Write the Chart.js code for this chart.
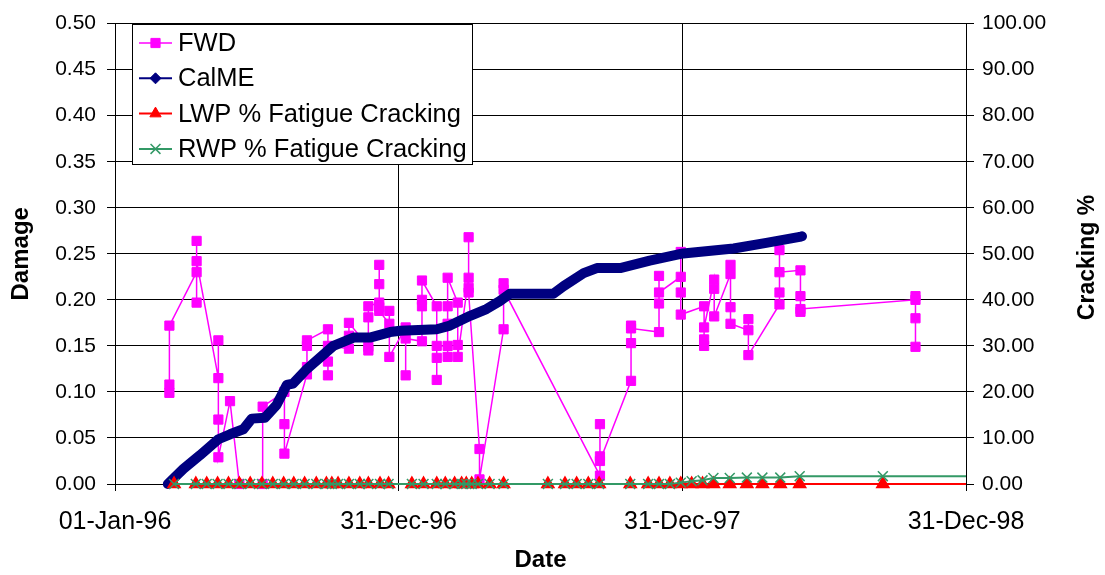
<!DOCTYPE html>
<html>
<head>
<meta charset="utf-8">
<script src="https://cdn.jsdelivr.net/npm/chart.js@4.4.1/dist/chart.umd.min.js"></script>
<style>
  body { margin: 0; background: #fff; }
  #wrap { width: 1105px; height: 575px; }
</style>
</head>
<body>
<div id="wrap"><canvas id="damageChart" width="1105" height="575"></canvas></div>
<script>
// axis tick labels
var xTickLabels = ["01-Jan-96", "31-Dec-96", "31-Dec-97", "31-Dec-98"];
var damageTicks = [0, 0.05, 0.1, 0.15, 0.2, 0.25, 0.3, 0.35, 0.4, 0.45, 0.5];
var crackingTicks = [0, 10, 20, 30, 40, 50, 60, 70, 80, 90, 100];

// FWD back-calculated damage (several drops per test date)
var fwdDates = [
  "1996-03-11", "1996-03-11", "1996-03-11",
  "1996-04-15", "1996-04-15", "1996-04-15", "1996-04-15",
  "1996-05-13", "1996-05-13", "1996-05-13", "1996-05-13",
  "1996-05-28", "1996-06-09",
  "1996-07-09", "1996-07-09",
  "1996-08-06", "1996-08-06", "1996-08-06",
  "1996-09-04", "1996-09-04", "1996-09-04", "1996-09-04",
  "1996-10-01", "1996-10-01", "1996-10-01", "1996-10-01",
  "1996-10-28", "1996-10-28", "1996-10-28",
  "1996-11-22", "1996-11-22", "1996-11-22", "1996-11-22",
  "1996-12-06", "1996-12-06", "1996-12-06", "1996-12-06", "1996-12-06",
  "1996-12-19", "1996-12-19", "1996-12-19",
  "1997-01-09", "1997-01-09", "1997-01-09",
  "1997-01-30", "1997-01-30", "1997-01-30", "1997-01-30",
  "1997-02-18", "1997-02-18", "1997-02-18", "1997-02-18",
  "1997-03-04", "1997-03-04", "1997-03-04", "1997-03-04", "1997-03-04",
  "1997-03-17", "1997-03-17", "1997-03-17",
  "1997-03-31", "1997-03-31", "1997-03-31", "1997-03-31",
  "1997-04-14", "1997-04-14",
  "1997-05-15", "1997-05-15", "1997-05-15",
  "1997-09-16", "1997-09-16", "1997-09-16", "1997-09-16",
  "1997-10-26", "1997-10-26", "1997-10-26", "1997-10-26",
  "1997-12-01", "1997-12-01", "1997-12-01", "1997-12-01",
  "1997-12-29", "1997-12-29", "1997-12-29", "1997-12-29",
  "1998-01-28", "1998-01-28", "1998-01-28", "1998-01-28",
  "1998-02-10", "1998-02-10", "1998-02-10",
  "1998-03-03", "1998-03-03", "1998-03-03", "1998-03-03",
  "1998-03-26", "1998-03-26", "1998-03-26",
  "1998-05-05", "1998-05-05", "1998-05-05", "1998-05-05",
  "1998-06-01", "1998-06-01", "1998-06-01", "1998-06-01",
  "1998-10-27", "1998-10-27", "1998-10-27", "1998-10-27"
];
var fwdDamage = [
  0.099, 0.108, 0.172,
  0.230, 0.197, 0.264, 0.242,
  0.115, 0.156, 0.070, 0.029,
  0.090, 0.000,
  0.000, 0.084,
  0.100, 0.065, 0.033,
  0.119, 0.127, 0.150, 0.156,
  0.168, 0.133, 0.118, 0.150,
  0.147, 0.161, 0.175,
  0.149, 0.145, 0.181, 0.193,
  0.197, 0.238, 0.217, 0.192, 0.188,
  0.174, 0.188, 0.138,
  0.170, 0.118, 0.158,
  0.155, 0.193, 0.200, 0.221,
  0.193, 0.137, 0.113, 0.150,
  0.150, 0.138, 0.174, 0.193, 0.224,
  0.197, 0.151, 0.138,
  0.224, 0.268, 0.213, 0.208,
  0.038, 0.005,
  0.168, 0.218, 0.211,
  0.009, 0.065, 0.030, 0.025,
  0.112, 0.153, 0.172, 0.169,
  0.165, 0.196, 0.226, 0.208,
  0.225, 0.252, 0.208, 0.184,
  0.193, 0.150, 0.157, 0.170,
  0.222, 0.212, 0.182,
  0.228, 0.238, 0.192, 0.174,
  0.167, 0.179, 0.140,
  0.195, 0.208, 0.254, 0.230,
  0.232, 0.204, 0.187, 0.190,
  0.200, 0.204, 0.180, 0.149
];

// CalME simulated damage
var calmeDates = [
  "1996-03-09", "1996-03-29", "1996-04-19", "1996-05-13", "1996-05-28", "1996-06-14",
  "1996-06-25", "1996-07-12", "1996-07-27", "1996-08-09", "1996-08-17", "1996-09-04",
  "1996-10-08", "1996-11-03", "1996-11-24", "1996-12-20", "1997-01-02", "1997-02-18",
  "1997-03-07", "1997-04-02", "1997-04-23", "1997-05-10", "1997-05-23", "1997-07-18",
  "1997-07-31", "1997-08-26", "1997-09-12", "1997-10-12", "1997-11-19", "1998-01-01",
  "1998-03-07", "1998-04-18", "1998-05-31", "1998-06-03"
];
var calmeDamage = [
  0.000, 0.0165, 0.031, 0.0486, 0.054, 0.0594,
  0.071, 0.072, 0.086, 0.1076, 0.109, 0.125,
  0.150, 0.159, 0.159, 0.165, 0.1665, 0.168,
  0.172, 0.1826, 0.190, 0.1986, 0.2065, 0.2065,
  0.2147, 0.229, 0.2345, 0.2345, 0.2426, 0.2504,
  0.2558, 0.2618, 0.2683, 0.269
];

// fatigue cracking surveys (last point lies past the axis end)
var crackDates = [
  "1996-03-17", "1996-04-14", "1996-04-28", "1996-05-12", "1996-05-26", "1996-06-09",
  "1996-06-23", "1996-07-08", "1996-07-22", "1996-08-05", "1996-08-18", "1996-09-01",
  "1996-09-16", "1996-09-29", "1996-10-06", "1996-10-14", "1996-10-28", "1996-11-11",
  "1996-11-22", "1996-12-07", "1996-12-18", "1997-01-17", "1997-02-01", "1997-02-18",
  "1997-03-01", "1997-03-13", "1997-03-22", "1997-03-28", "1997-04-04", "1997-04-12",
  "1997-04-27", "1997-05-15", "1997-07-11", "1997-08-02", "1997-08-17", "1997-09-01",
  "1997-09-15", "1997-10-25", "1997-11-17", "1997-12-01", "1997-12-15", "1997-12-29",
  "1998-01-12", "1998-01-26", "1998-02-09", "1998-03-02", "1998-03-24", "1998-04-13",
  "1998-05-06", "1998-05-31", "1998-09-15", "1999-02-15"
];
var lwpCracking = [
  0, 0, 0, 0, 0, 0, 0, 0, 0, 0, 0, 0, 0,
  0, 0, 0, 0, 0, 0, 0, 0, 0, 0, 0, 0, 0,
  0, 0, 0, 0, 0, 0, 0, 0, 0, 0, 0, 0, 0,
  0, 0, 0, 0, 0, 0, 0, 0, 0, 0, 0, 0, 0
];
var rwpCracking = [
  0, 0, 0, 0, 0, 0, 0, 0, 0, 0, 0, 0, 0,
  0, 0, 0, 0, 0, 0, 0, 0, 0, 0, 0, 0, 0,
  0, 0, 0, 0, 0, 0, 0, 0, 0, 0, 0, 0, 0,
  0, 0, 0.3, 0.6, 0.8, 1.3, 1.3, 1.4, 1.4, 1.4, 1.7, 1.7, 1.7
];

// dates -> excel style day numbers, so the x axis can be linear
function toSerial(s) {
  var p = s.split("-");
  return Math.round((Date.UTC(+p[0], +p[1] - 1, +p[2]) - Date.UTC(1899, 11, 30)) / 86400000);
}
function pairs(dates, values) {
  return dates.map(function (d, i) { return { x: toSerial(d), y: values[i] }; });
}
var xMin = toSerial("1996-01-01");
var xMax = toSerial("1998-12-31");

var FONT = "'Liberation Sans', Arial, sans-serif";
Chart.defaults.font.family = FONT;
Chart.defaults.color = "#000";

var legendItems = [
  { text: "FWD", color: "#FF00FF", lineWidth: 1.5, pointStyle: "rect", radius: 6.5 },
  { text: "CalME", color: "#000080", lineWidth: 2, pointStyle: "rectRot", radius: 5.5 },
  { text: "LWP % Fatigue Cracking", color: "#FF0000", lineWidth: 2, pointStyle: "triangle", radius: 6.5 },
  { text: "RWP % Fatigue Cracking", color: "#339966", lineWidth: 2, pointStyle: "crossRot", radius: 7 }
];

// excel-like boxed legend + right axis title reading upward
var excelBits = {
  id: "excelBits",
  afterDraw: function (chart) {
    var ctx = chart.ctx;
    ctx.save();
    ctx.fillStyle = "#fff";
    ctx.fillRect(132.5, 24.5, 340, 140);
    ctx.strokeStyle = "#000";
    ctx.lineWidth = 1;
    ctx.strokeRect(132.5, 24.5, 340, 140);
    ctx.font = "25.5px " + FONT;
    ctx.textBaseline = "middle";
    ctx.textAlign = "left";
    legendItems.forEach(function (item, i) {
      var y = 43 + i * 35.3;
      ctx.strokeStyle = item.color;
      ctx.fillStyle = item.color;
      ctx.lineWidth = item.lineWidth;
      ctx.beginPath();
      ctx.moveTo(139, y);
      ctx.lineTo(172, y);
      ctx.stroke();
      ctx.lineWidth = item.pointStyle === "crossRot" ? 1.5 : 1;
      Chart.helpers.drawPoint(ctx, { pointStyle: item.pointStyle, radius: item.radius, rotation: 0, borderWidth: ctx.lineWidth }, 155.5, y);
      ctx.fillStyle = "#000";
      ctx.fillText(item.text, 178, y + 1);
    });

    ctx.translate(1088, 257.5);
    ctx.rotate(-Math.PI / 2);
    ctx.font = "bold 23px " + FONT;
    ctx.textAlign = "center";
    ctx.fillText("Cracking %", 0, 0);
    ctx.restore();
  }
};

// markers sitting on the zero line must not be cut, the trailing line must stop at the axis end
var crackClip = { left: 12, top: 12, right: 0, bottom: 12 };

var fwdSet = {
  label: "FWD",
  data: pairs(fwdDates, fwdDamage),
  yAxisID: "y",
  borderColor: "#FF00FF",
  backgroundColor: "#FF00FF",
  borderWidth: 1.5,
  pointStyle: "rect",
  pointRadius: 6.5,
  pointBorderWidth: 1,
  clip: 12,
  order: 4
};

var calmeSet = {
  label: "CalME",
  data: pairs(calmeDates, calmeDamage),
  yAxisID: "y",
  borderColor: "#000080",
  backgroundColor: "#000080",
  borderWidth: 10,
  borderCapStyle: "round",
  borderJoinStyle: "round",
  pointRadius: 0,
  clip: 12,
  order: 3
};

var lwpSet = {
  label: "LWP % Fatigue Cracking",
  data: pairs(crackDates, lwpCracking),
  yAxisID: "y1",
  borderColor: "#FF0000",
  backgroundColor: "#FF0000",
  borderWidth: 2,
  pointStyle: "triangle",
  pointRadius: function (c) { return c.raw && c.raw.x > xMax ? 0 : 6.5; },
  clip: crackClip,
  order: 2
};

var rwpSet = {
  label: "RWP % Fatigue Cracking",
  data: pairs(crackDates, rwpCracking),
  yAxisID: "y1",
  borderColor: "#339966",
  backgroundColor: "#339966",
  borderWidth: 2,
  pointStyle: "crossRot",
  pointRadius: function (c) { return c.raw && c.raw.x > xMax ? 0 : 7; },
  pointBorderWidth: 1.5,
  clip: crackClip,
  order: 1
};

var config = {
  type: "line",
  data: { datasets: [fwdSet, calmeSet, lwpSet, rwpSet] },
  options: {
    responsive: false,
    animation: false,
    layout: { padding: { top: 17, left: 0, right: 0, bottom: 0 } },
    plugins: { legend: { display: false }, tooltip: { enabled: false } },
    elements: { line: { tension: 0 } },
    scales: {
      x: {
        type: "linear",
        min: xMin,
        max: xMax,
        afterBuildTicks: function (scale) {
          scale.ticks = xTickLabels.map(function (t, i) { return { value: xMin + i * 365 }; });
        },
        afterFit: function (scale) { scale.height = 91; },
        ticks: {
          font: { size: 25 },
          padding: 16,
          maxRotation: 0,
          callback: function (v, i) { return xTickLabels[i]; }
        },
        grid: { color: "#000", lineWidth: 1, tickLength: 7 },
        border: { color: "#000", width: 1 },
        title: { display: true, text: "Date", font: { size: 24, weight: "bold" }, padding: { top: 0, bottom: 0 } }
      },
      y: {
        position: "left",
        min: 0,
        max: 0.5,
        afterBuildTicks: function (scale) {
          scale.ticks = damageTicks.map(function (v) { return { value: v }; });
        },
        afterFit: function (scale) { scale.width = 115; },
        ticks: {
          font: { size: 21 },
          padding: 11,
          callback: function (v) { return v.toFixed(2); }
        },
        grid: { color: "#000", lineWidth: 1, tickLength: 8 },
        border: { color: "#000", width: 1 },
        title: { display: true, text: "Damage", font: { size: 24, weight: "bold" }, padding: { top: 7, bottom: 0 } }
      },
      y1: {
        position: "right",
        min: 0,
        max: 100,
        afterBuildTicks: function (scale) {
          scale.ticks = crackingTicks.map(function (v) { return { value: v }; });
        },
        afterFit: function (scale) { scale.width = 139; },
        ticks: {
          font: { size: 21 },
          padding: 8,
          callback: function (v) { return v.toFixed(2); }
        },
        grid: { color: "#000", lineWidth: 1, tickLength: 8, drawOnChartArea: false },
        border: { color: "#000", width: 1 }
      }
    }
  },
  plugins: [excelBits]
};

var chart = new Chart(document.getElementById("damageChart"), config);
</script>
</body>
</html>
